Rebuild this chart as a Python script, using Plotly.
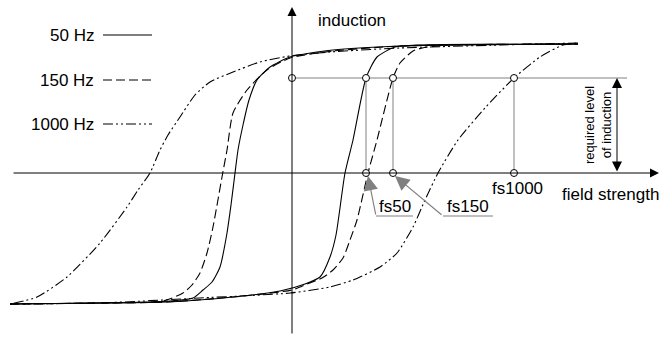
import plotly.graph_objects as go

# hysteresis loops: field strength H and induction B (arbitrary units)
# "up" = rising branch (right side of the loop), "down" = falling branch (left side)
h_50_up = [-2.82, -1.92, -1.25, -0.59, -0.12, 0.13, 0.28, 0.38, 0.44, 0.53, 0.61, 0.74, 0.85, 1.03, 1.28, 2.86]
b_50_up = [-1.31, -1.30, -1.29, -1.24, -1.18, -1.11, -1.04, -0.84, -0.62, 0.00, 0.33, 0.95, 1.16, 1.26, 1.28, 1.29]
h_50_down = [2.86, 1.58, 1.08, 0.41, -0.02, -0.22, -0.35, -0.43, -0.49, -0.54, -0.57, -0.61, -0.65, -0.72, -0.80, -0.89, -0.99, -1.22, -1.92, -2.82]
b_50_down = [1.29, 1.28, 1.27, 1.23, 1.16, 1.06, 0.93, 0.73, 0.48, 0.23, 0.00, -0.32, -0.60, -0.94, -1.09, -1.17, -1.25, -1.28, -1.30, -1.31]

h_150_up = [-2.82, -1.92, -1.25, -0.59, 0.00, 0.15, 0.30, 0.41, 0.51, 0.58, 0.65, 0.76, 0.85, 1.01, 1.08, 1.21, 1.35, 1.58, 2.86]
b_150_up = [-1.31, -1.30, -1.29, -1.24, -1.17, -1.11, -1.05, -0.97, -0.85, -0.67, -0.47, 0.00, 0.33, 0.95, 1.10, 1.22, 1.26, 1.28, 1.29]
h_150_down = [2.86, 1.58, 1.08, 0.41, -0.02, -0.25, -0.45, -0.59, -0.65, -0.70, -0.79, -0.85, -0.92, -1.00, -1.09, -1.29, -1.92, -2.82]
b_150_down = [1.29, 1.28, 1.27, 1.22, 1.15, 1.03, 0.83, 0.60, 0.23, -0.04, -0.54, -0.80, -1.00, -1.12, -1.20, -1.28, -1.30, -1.31]

h_1000_up = [-2.82, -1.92, -0.92, -0.02, 0.38, 0.61, 0.88, 1.05, 1.21, 1.33, 1.46, 1.66, 1.93, 2.22, 2.48, 2.71, 2.86]
b_1000_up = [-1.31, -1.30, -1.25, -1.20, -1.14, -1.07, -0.94, -0.80, -0.54, -0.27, 0.00, 0.33, 0.65, 0.95, 1.16, 1.28, 1.30]
h_1000_down = [2.86, 2.08, 1.08, 0.38, -0.02, -0.32, -0.59, -0.82, -0.97, -1.12, -1.24, -1.32, -1.42, -1.54, -1.65, -1.92, -2.25, -2.55, -2.82]
b_1000_down = [1.30, 1.28, 1.25, 1.21, 1.17, 1.11, 1.01, 0.91, 0.78, 0.56, 0.38, 0.23, 0.00, -0.17, -0.34, -0.70, -1.04, -1.24, -1.31]

freq_labels = ["50 Hz", "150 Hz", "1000 Hz"]
fs_labels = ["fs50", "fs150", "fs1000"]
fs_values = [0.74, 1.01, 2.22]   # field strength where each loop reaches the required induction
b_required = 0.95

FONT = "Liberation Sans, Arial, sans-serif"
GREY = "#808080"
dashes = ["solid", "9px,4px", "10px,3px,2px,3px,2px,3px"]

fig = go.Figure()

# guide lines for the required induction level
fig.add_trace(go.Scatter(x=[0, 3.35], y=[b_required, b_required], mode="lines",
                         line=dict(color=GREY, width=1), hoverinfo="skip"))
for fs in fs_values:
    fig.add_trace(go.Scatter(x=[fs, fs], y=[0, b_required], mode="lines",
                             line=dict(color=GREY, width=1), hoverinfo="skip"))

loops = [
    (h_50_up, b_50_up, h_50_down, b_50_down),
    (h_150_up, b_150_up, h_150_down, b_150_down),
    (h_1000_up, b_1000_up, h_1000_down, b_1000_down),
]
for (hu, bu, hd, bd), dash in zip(loops, dashes):
    for h, b in ((hu, bu), (hd, bd)):
        fig.add_trace(go.Scatter(x=h, y=b, mode="lines",
                                 line=dict(color="black", width=1.1, dash=dash,
                                           shape="spline", smoothing=0.6),
                                 hoverinfo="skip"))

# legend drawn by hand: label left, line sample right
legend_y = [1.38, 0.93, 0.49]
for label, dash, ly in zip(freq_labels, dashes, legend_y):
    fig.add_trace(go.Scatter(x=[-1.89, -1.40], y=[ly, ly], mode="lines",
                             line=dict(color="black", width=1.1, dash=dash), hoverinfo="skip"))
    fig.add_annotation(x=-1.96, y=ly, text=label, showarrow=False, xanchor="right",
                       yanchor="middle", font=dict(size=17, family=FONT, color="black"))

# little open circles
cx = [0] + fs_values + fs_values
cy = [b_required] * 4 + [0] * 3
fig.add_trace(go.Scatter(x=cx, y=cy, mode="markers",
                         marker=dict(size=7, color="white", line=dict(color="black", width=1)),
                         hoverinfo="skip"))

# coordinate axes with arrow heads
fig.add_annotation(x=0, y=1.66, ax=0, ay=-1.62, axref="x", ayref="y", text="",
                   showarrow=True, arrowhead=2, arrowsize=1.8, arrowwidth=1, arrowcolor="black", standoff=0)
fig.add_annotation(x=3.67, y=0, ax=-2.80, ay=0, axref="x", ayref="y", text="",
                   showarrow=True, arrowhead=2, arrowsize=1.8, arrowwidth=1, arrowcolor="black", standoff=0)
# double arrow marking the required level
fig.add_annotation(x=3.25, y=b_required, ax=3.25, ay=0, axref="x", ayref="y", text="",
                   showarrow=True, arrowhead=2, startarrowhead=2, arrowside="end+start",
                   arrowsize=2, startarrowsize=2, arrowwidth=1, arrowcolor="black",
                   standoff=0, startstandoff=0)

fig.add_annotation(x=0.24, y=1.53, text="induction", showarrow=False, xanchor="left",
                   font=dict(size=17, family=FONT, color="black"))
fig.add_annotation(x=3.18, y=-0.21, text="field strength", showarrow=False,
                   font=dict(size=17, family=FONT, color="black"))
fig.add_annotation(x=3.06, y=0.48, text="required level<br>of induction", showarrow=False,
                   textangle=-90, font=dict(size=13, family=FONT, color="black"))
fig.add_annotation(x=fs_values[2] + 0.03, y=-0.15, text=fs_labels[2], showarrow=False,
                   font=dict(size=17, family=FONT, color="black"))

# grey pointers to fs50 / fs150
fig.add_trace(go.Scatter(x=[1.21, 0.84], y=[-0.43, -0.43], mode="lines",
                         line=dict(color=GREY, width=1.2), hoverinfo="skip"))
fig.add_trace(go.Scatter(x=[2.01, 1.51], y=[-0.43, -0.43], mode="lines",
                         line=dict(color=GREY, width=1.2), hoverinfo="skip"))
fig.add_annotation(x=fs_values[0] + 0.02, y=-0.03, ax=0.84, ay=-0.43, axref="x", ayref="y", text="",
                   showarrow=True, arrowhead=2, arrowsize=2.4, arrowwidth=1.2, arrowcolor=GREY, standoff=0)
fig.add_annotation(x=fs_values[1] + 0.02, y=-0.03, ax=1.51, ay=-0.43, axref="x", ayref="y", text="",
                   showarrow=True, arrowhead=2, arrowsize=2.4, arrowwidth=1.2, arrowcolor=GREY, standoff=0)
fig.add_annotation(x=1.03, y=-0.33, text=fs_labels[0], showarrow=False,
                   font=dict(size=17, family=FONT, color="black"))
fig.add_annotation(x=1.76, y=-0.33, text=fs_labels[1], showarrow=False,
                   font=dict(size=17, family=FONT, color="black"))

fig.update_layout(
    width=661, height=341,
    margin=dict(l=0, r=0, t=0, b=0),
    paper_bgcolor="white", plot_bgcolor="white",
    showlegend=False,
    xaxis=dict(range=[-2.92, 3.69], visible=False, fixedrange=True),
    yaxis=dict(range=[-1.68, 1.73], visible=False, fixedrange=True),
)

fig.write_html("out.html", config={"displayModeBar": False},
               post_script="document.body.style.margin='0';")
